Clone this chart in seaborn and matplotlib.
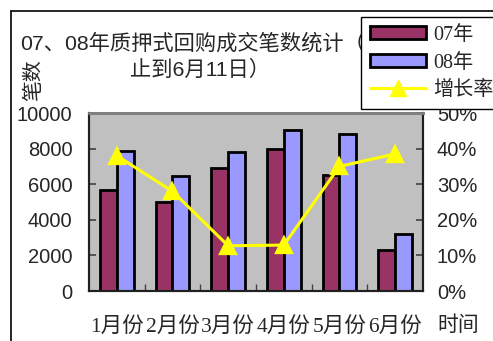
import pandas as pd
import matplotlib.pyplot as plt
import seaborn as sns
from matplotlib.patches import Patch
from matplotlib.lines import Line2D
from matplotlib.ticker import FixedLocator, PercentFormatter

# data
months = ["1月份", "2月份", "3月份", "4月份", "5月份", "6月份"]
count_07 = [5700, 5000, 6930, 8000, 6540, 2320]
count_08 = [7880, 6440, 7810, 9030, 8820, 3220]
growth = [38.0, 28.0, 12.7, 12.9, 35.0, 38.5]
years = ["07年", "08年"]

serif_cjk = ["Liberation Serif", "Noto Sans CJK SC"]
sans_cjk = ["Liberation Sans", "Noto Sans CJK SC"]

df = pd.DataFrame({
    "月份": months * 2,
    "笔数": count_07 + count_08,
    "年份": [years[0]] * len(months) + [years[1]] * len(months),
})
df_growth = pd.DataFrame({"月份": months, "增长率": growth})

sns.set_theme(style="white")
plt.rcParams["font.family"] = sans_cjk

fig = plt.figure(figsize=(4.93, 3.41), dpi=100)
ax = fig.add_axes([0.1805, 0.1466, 0.6775, 0.522])
ax.set_facecolor("#C0C0C0")

sns.barplot(
    data=df, x="月份", y="笔数", hue="年份",
    palette=["#993366", "#9999FF"],
    width=0.6, edgecolor="black", linewidth=2,
    saturation=1, legend=False, ax=ax,
)

ax2 = ax.twinx()
sns.pointplot(
    data=df_growth, x="月份", y="增长率",
    color="#FFFF00", markers="^", markersize=11, linewidth=2.2,
    ax=ax2,
)

for a in (ax, ax2):
    a.set_xlim(-0.5, 5.5)
    a.set_xlabel("")
    a.set_ylabel("")
ax.set_ylim(0, 10000)
ax2.set_ylim(0, 50)
ax.set_yticks([0, 2000, 4000, 6000, 8000, 10000])
ax2.set_yticks([0, 10, 20, 30, 40, 50])
ax2.yaxis.set_major_formatter(PercentFormatter(decimals=0))

# category boundary ticks on the x axis
ax.xaxis.set_minor_locator(FixedLocator([0.5, 1.5, 2.5, 3.5, 4.5]))
ax.tick_params(axis="x", which="major", length=0, pad=19)
ax.tick_params(axis="x", which="minor", direction="in", length=5,
               width=1, color="#404040", bottom=True)
ax.tick_params(axis="y", direction="in", length=5, width=1.2,
               color="#404040", left=True, labelsize=14.5, pad=12)
ax2.tick_params(axis="y", direction="in", length=5, width=1.2,
                color="#404040", right=True, labelsize=14.5, pad=10)
for lab in ax.get_xticklabels():
    lab.set_family(serif_cjk)
    lab.set_fontsize(15.5)

for a in (ax, ax2):
    for s in a.spines.values():
        s.set_color("#202020")
        s.set_linewidth(1.5)
    a.spines["top"].set_color("#808080")
    a.spines["top"].set_linewidth(2)

# titles and axis labels
fig.text(20 / 493, 1 - 43 / 341, "07、08年质押式回购成交笔数统计（截",
         ha="left", va="center", fontsize=15.3, family=sans_cjk)
fig.text(200 / 493, 1 - 70 / 341, "止到6月11日）",
         ha="center", va="center", fontsize=15.3, family=sans_cjk)
fig.text(35 / 493, 1 - 80 / 341, "笔数", rotation=90,
         ha="center", va="center", fontsize=15, family=serif_cjk)
fig.text(458 / 493, 1 - 326 / 341, "时间",
         ha="center", va="center", fontsize=15, family=serif_cjk)

# outer chart frame (top and left edges visible)
fy = 1 - 10.7 / 341
fx = 11 / 493
fig.add_artist(Line2D([fx, 1.0], [fy, fy], color="black", lw=1.2))
fig.add_artist(Line2D([fx, fx], [0, fy], color="black", lw=1.2))

handles = [
    Patch(facecolor="#993366", edgecolor="black", linewidth=2),
    Patch(facecolor="#9999FF", edgecolor="black", linewidth=2),
    Line2D([], [], color="#FFFF00", marker="^", markersize=11, lw=2.2),
]
leg = fig.legend(
    handles, years + ["增长率"], loc="upper left",
    bbox_to_anchor=(361 / 493, 1 - 17 / 341),
    frameon=True, fancybox=False, edgecolor="black", facecolor="white",
    framealpha=1, borderaxespad=0, borderpad=0.45, handlelength=2.8,
    handleheight=0.62, handletextpad=0.35, labelspacing=0.42,
    prop={"family": serif_cjk, "size": 14.5},
)
leg.get_frame().set_linewidth(1)
leg.set_zorder(10)

fig.savefig("out.png", dpi=100)
